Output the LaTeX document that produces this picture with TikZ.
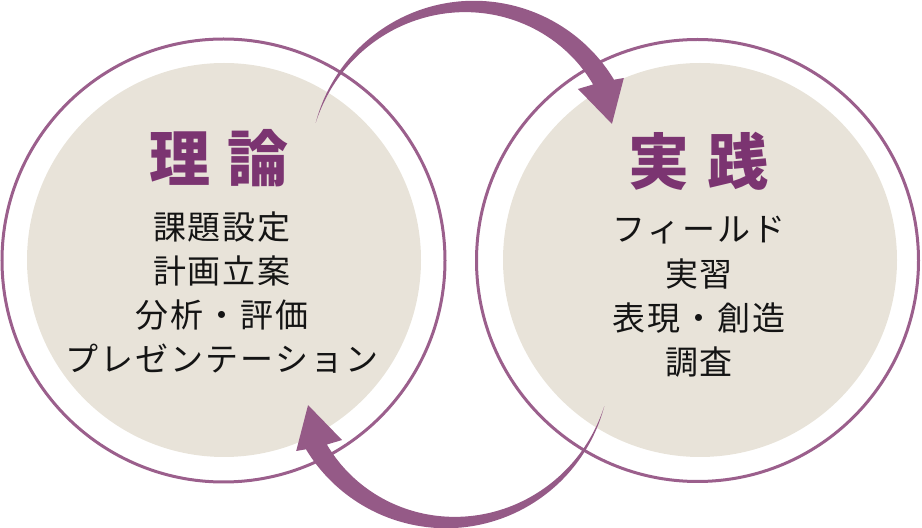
\documentclass[tikz,border=0pt]{standalone}
\usepackage{fontspec}
\newfontfamily\jp{Noto Sans CJK JP}[LetterSpace=6]
\newfontfamily\jptitle{Noto Sans CJK JP}
\definecolor{ringc}{HTML}{9B5F8C}
\definecolor{arrowc}{HTML}{955A87}
\definecolor{titlec}{HTML}{7B3471}
\definecolor{fillc}{HTML}{E8E3D9}
\definecolor{txtc}{HTML}{141414}
\tikzset{
  ringline/.style={draw=ringc, line width=3pt},
  disc/.style={fill=fillc},
  bodytxt/.style={inner sep=0pt, text=txtc, font=\jp\fontsize{33}{40}\selectfont},
  titletxt/.style={inner sep=0pt, text=titlec, font=\jptitle\bfseries\fontsize{61}{70}\selectfont},
  bigarrow/.pic={
    \fill[arrowc] (165.3:163.7) arc[start angle=165.3, end angle=31.2, radius=163.7]
      -- (30:173) -- (16.4:143.8) -- (36:128.5) -- (33.9:143.5)
      -- plot[domain=33.9:165.3, samples=90] (\x:{163.7-20.2*(165.3-\x)/131.4})
      -- cycle;
  }
}
\begin{document}
\begin{tikzpicture}[x=1pt,y=1pt]
\useasboundingbox (0,0) rectangle (922,528);
% left circle
\fill[disc] (224,268) circle[radius=197];
\draw[ringline] (223.5,267.5) circle[radius=221.5];
% right circle
\fill[disc] (700,268) circle[radius=197];
\draw[ringline] (697.5,267.5) circle[radius=221];
% arrows
\pic at (474,363.5) {bigarrow};
\pic[rotate=180] at (446,163.5) {bigarrow};
% titles
\node[titletxt] (tl) at (219,370) {理\hspace{18pt}論};
\node[titletxt] (tr) at (698.5,366.5) {実\hspace{18pt}践};
% left texts
\node[bodytxt] (l1) at (222,301) {課題設定};
\node[bodytxt] (l2) at (222,257) {計画立案};
\node[bodytxt] (l3) at (222,213) {分析・評価};
\node[bodytxt] (l4) at (222,169) {プレゼンテーション};
% right texts
\node[bodytxt] (r1) at (699,298) {フィールド};
\node[bodytxt] (r2) at (699,254) {実習};
\node[bodytxt] (r3) at (699,210) {表現・創造};
\node[bodytxt] (r4) at (699,166) {調査};
\end{tikzpicture}
\end{document}
